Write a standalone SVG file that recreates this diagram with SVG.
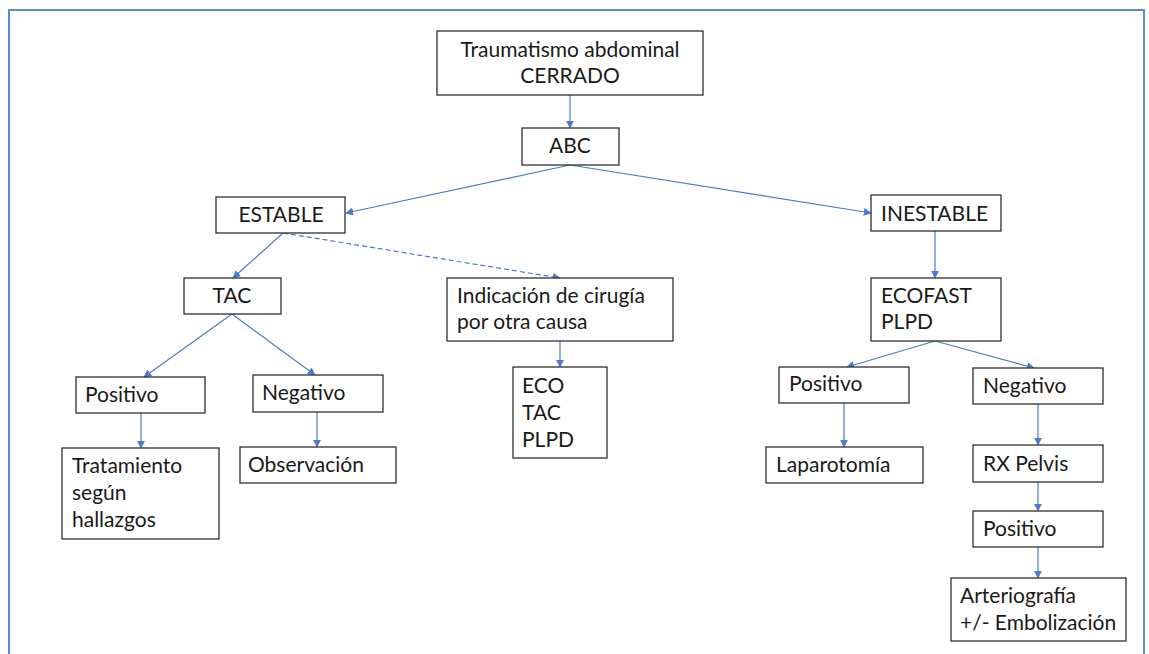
<svg xmlns="http://www.w3.org/2000/svg" width="1149" height="654" viewBox="0 0 1149 654">
  <style>
    .box { fill: #ffffff; stroke: #2f2f2f; stroke-width: 1.3; }
    .lbl { font-family: Lato, "Liberation Sans", sans-serif; font-size: 21px; fill: #1a1a1a; }
    .mid { text-anchor: middle; }
    .link { fill: none; stroke: #4a7bd0; stroke-width: 1.2; marker-end: url(#arrow); }
    .dash { stroke-dasharray: 5 3; }
  </style>
  <defs>
    <marker id="arrow" viewBox="0 0 10 10" refX="9" refY="5" markerWidth="8" markerHeight="8" markerUnits="userSpaceOnUse" orient="auto">
      <path d="M0,0 L10,5 L0,10 z" fill="#4a7bd0"/>
    </marker>
  </defs>

  <!-- outer frame -->
  <rect x="9" y="10" width="1135" height="660" fill="none" stroke="#5b8bd0" stroke-width="2"/>

  <g id="connectors">
    <line class="link" x1="570" y1="95" x2="570" y2="128"/>
    <line class="link" x1="570" y1="165" x2="346" y2="213"/>
    <line class="link" x1="570" y1="165" x2="871" y2="213"/>
    <line class="link" x1="283" y1="233" x2="233" y2="278"/>
    <line class="link dash" x1="283" y1="233" x2="560" y2="278"/>
    <line class="link" x1="560" y1="341" x2="560" y2="367"/>
    <line class="link" x1="232" y1="314" x2="144" y2="377"/>
    <line class="link" x1="232" y1="314" x2="315" y2="375"/>
    <line class="link" x1="141" y1="413" x2="141" y2="448"/>
    <line class="link" x1="317" y1="412" x2="317" y2="447"/>
    <line class="link" x1="935" y1="231" x2="935" y2="278"/>
    <line class="link" x1="935" y1="341" x2="847" y2="367"/>
    <line class="link" x1="935" y1="341" x2="1034" y2="368"/>
    <line class="link" x1="844" y1="403" x2="844" y2="447"/>
    <line class="link" x1="1038" y1="404" x2="1038" y2="445"/>
    <line class="link" x1="1038" y1="482" x2="1038" y2="511"/>
    <line class="link" x1="1038" y1="547" x2="1038" y2="578"/>
  </g>

  <g id="trauma">
    <rect class="box" x="437" y="31" width="266" height="64"/>
    <text class="lbl mid" x="570" y="57">Traumatismo abdominal</text>
    <text class="lbl mid" x="570" y="83">CERRADO</text>
  </g>
  <g id="abc">
    <rect class="box" x="522" y="128" width="97" height="37"/>
    <text class="lbl mid" x="570" y="153">ABC</text>
  </g>
  <g id="estable">
    <rect class="box" x="216" y="197" width="129" height="36"/>
    <text class="lbl mid" x="281" y="222">ESTABLE</text>
  </g>
  <g id="inestable">
    <rect class="box" x="871" y="195" width="130" height="36"/>
    <text class="lbl" x="881" y="221">INESTABLE</text>
  </g>
  <g id="tac">
    <rect class="box" x="184" y="278" width="97" height="36"/>
    <text class="lbl mid" x="232" y="303">TAC</text>
  </g>
  <g id="cirugia">
    <rect class="box" x="447" y="278" width="226" height="63"/>
    <text class="lbl" x="457" y="303">Indicación de cirugía</text>
    <text class="lbl" x="457" y="329">por otra causa</text>
  </g>
  <g id="eco-tac-plpd">
    <rect class="box" x="513" y="367" width="94" height="91"/>
    <text class="lbl" x="522" y="393">ECO</text>
    <text class="lbl" x="522" y="420">TAC</text>
    <text class="lbl" x="522" y="447">PLPD</text>
  </g>
  <g id="tac-positivo">
    <rect class="box" x="76" y="377" width="129" height="36"/>
    <text class="lbl" x="85" y="402">Positivo</text>
  </g>
  <g id="tac-negativo">
    <rect class="box" x="253" y="375" width="130" height="37"/>
    <text class="lbl" x="262" y="400">Negativo</text>
  </g>
  <g id="tratamiento">
    <rect class="box" x="62" y="448" width="157" height="91"/>
    <text class="lbl" x="72" y="473">Tratamiento</text>
    <text class="lbl" x="72" y="500">según</text>
    <text class="lbl" x="72" y="527">hallazgos</text>
  </g>
  <g id="observacion">
    <rect class="box" x="240" y="447" width="156" height="36"/>
    <text class="lbl" x="248" y="472">Observación</text>
  </g>
  <g id="ecofast">
    <rect class="box" x="871" y="278" width="130" height="63"/>
    <text class="lbl" x="881" y="303">ECOFAST</text>
    <text class="lbl" x="881" y="329">PLPD</text>
  </g>
  <g id="fast-positivo">
    <rect class="box" x="779" y="367" width="130" height="36"/>
    <text class="lbl" x="789" y="391">Positivo</text>
  </g>
  <g id="fast-negativo">
    <rect class="box" x="973" y="368" width="130" height="36"/>
    <text class="lbl" x="983" y="393">Negativo</text>
  </g>
  <g id="laparotomia">
    <rect class="box" x="766" y="447" width="157" height="36"/>
    <text class="lbl" x="776" y="472">Laparotomía</text>
  </g>
  <g id="rx-pelvis">
    <rect class="box" x="973" y="445" width="130" height="37"/>
    <text class="lbl" x="983" y="471">RX Pelvis</text>
  </g>
  <g id="rx-positivo">
    <rect class="box" x="973" y="511" width="130" height="36"/>
    <text class="lbl" x="983" y="536">Positivo</text>
  </g>
  <g id="arteriografia">
    <rect class="box" x="951" y="578" width="175" height="63"/>
    <text class="lbl" x="960" y="603">Arteriografía</text>
    <text class="lbl" x="960" y="630">+/- Embolización</text>
  </g>
</svg>
